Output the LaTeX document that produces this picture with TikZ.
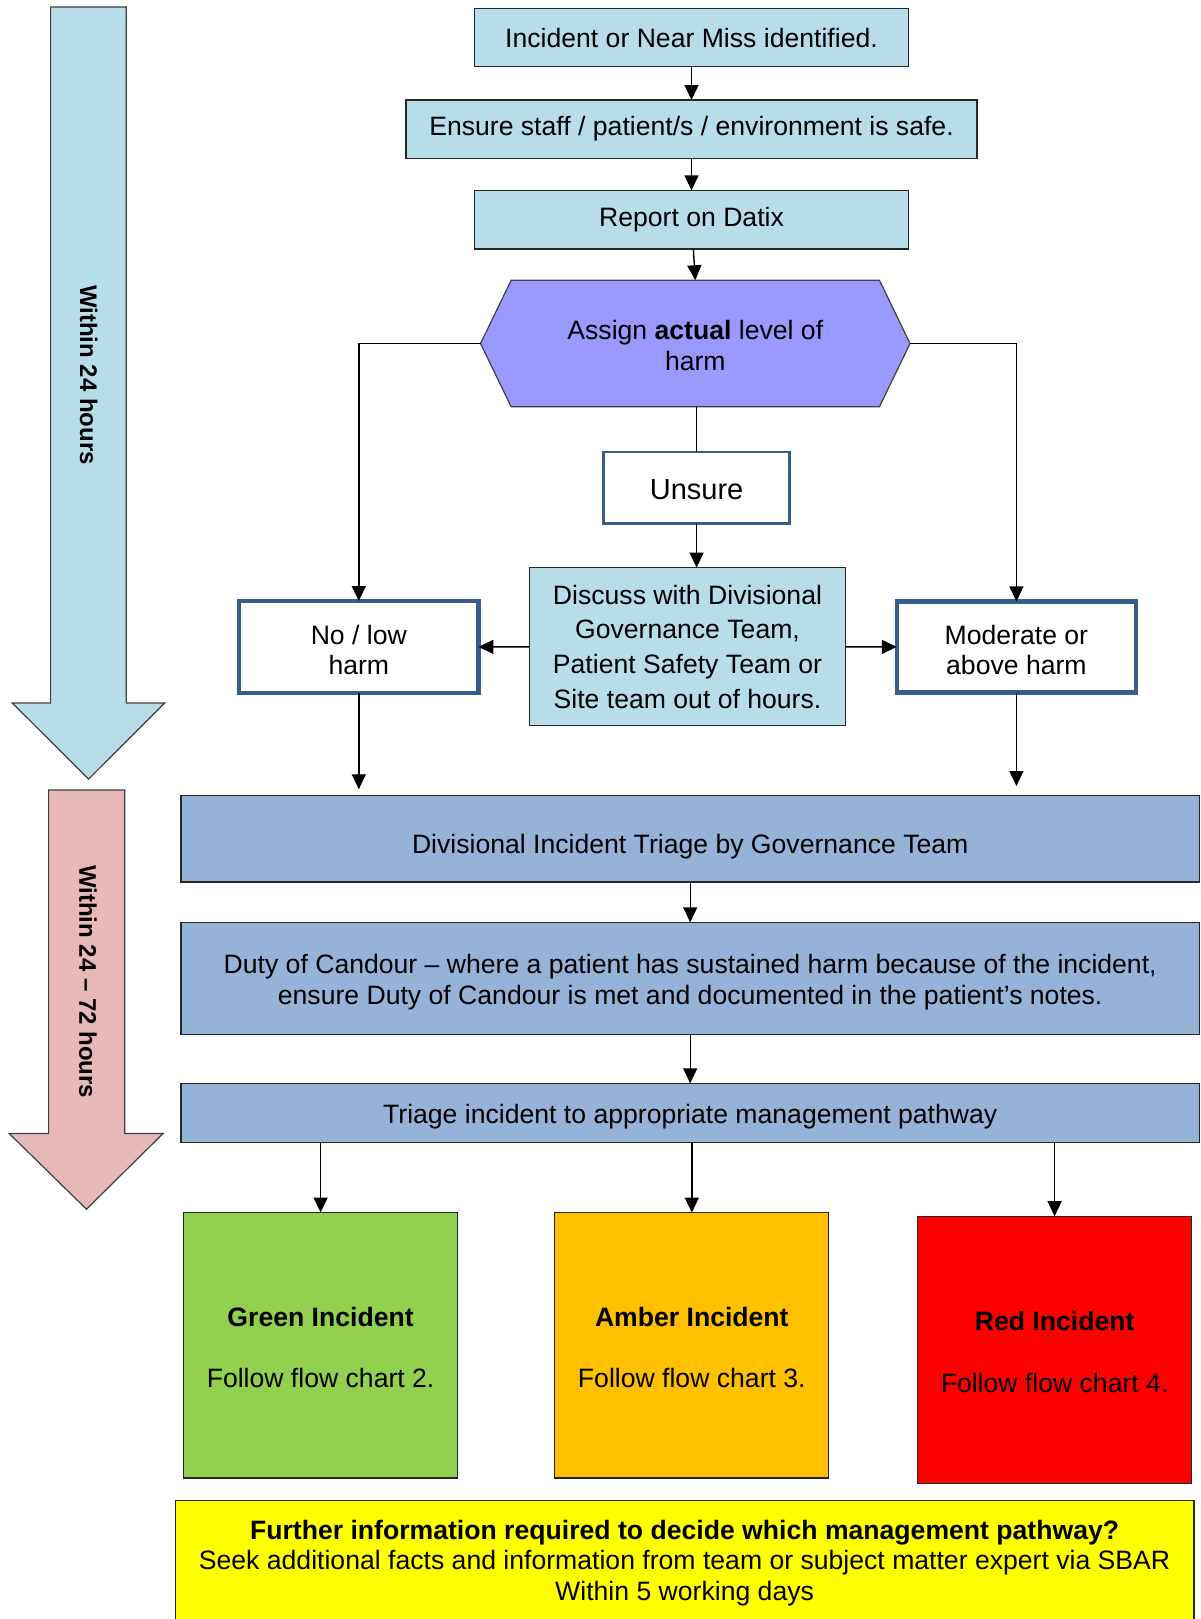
\documentclass[tikz,border=0pt]{standalone}
\usepackage{fontspec}
\setmainfont{Liberation Sans}
\usepackage{tikz}
\usetikzlibrary{arrows.meta,backgrounds}
\definecolor{paleblue}{HTML}{B7DEE8}
\definecolor{triblue}{HTML}{95B3D7}
\definecolor{hexblue}{HTML}{9999FF}
\definecolor{edgeblue}{HTML}{385D8A}
\definecolor{arrowblue}{HTML}{B7DEE8}
\definecolor{arrowpink}{HTML}{E6B9B8}
\definecolor{incgreen}{HTML}{92D050}
\definecolor{incamber}{HTML}{FFC000}
\definecolor{incred}{HTML}{FF0000}
\definecolor{infoyellow}{HTML}{FFFF00}

\begin{document}
\begin{tikzpicture}[x=1pt, y=-1pt,
    box/.style={draw=black!85, line width=1.3pt, fill=paleblue, inner sep=0pt, outer sep=0pt, align=center, font=\fontsize{26.6}{31}\selectfont},
    wide/.style={box, fill=triblue, minimum width=1018.3pt},
    harmbox/.style={box, fill=white, draw=edgeblue, line width=4.5pt, minimum width=239.2pt, text height=55.1pt, text depth=0.2pt, font=\fontsize{26.6}{30}\selectfont},
    pathbox/.style={box, minimum width=274pt, text height=85.5pt, text depth=0.2pt},
    arr/.style={-{Triangle[width=14pt,length=15pt]}, line width=1.4pt},
    band/.style={draw=black!75, line width=1.2pt},
    tag/.style={rotate=-90, font=\bfseries\fontsize{24}{28}\selectfont}]
  \useasboundingbox (0, 0) rectangle (1200, 1619);
  \draw [band, fill=arrowblue] (50.6, 7) -- (126.3, 7) -- (126.3, 703) -- (164.8, 703) -- (88.6, 779) -- (12.3, 703) -- (50.6, 703) -- cycle;
  \draw [band, fill=arrowpink] (48.6, 790) -- (124.8, 790) -- (124.8, 1133.5) -- (163, 1133.5) -- (86.5, 1209.2) -- (9.2, 1133.5) -- (48.6, 1133.5) -- cycle;
  \node [tag] (day1) at (88.6, 375) {Within 24 hours};
  \node [tag] (day3) at (88, 981.6) {Within 24 – 72 hours};

  \node [box, minimum width=434pt, minimum height=58.6pt] (incident) at (691.5, 37.5) {Incident or Near Miss identified.};
  \node [box, minimum width=571pt, minimum height=58.2pt] (safe) at (691.5, 129.1) {Ensure staff / patient/s / environment is safe.};
  \node [box, minimum width=434pt, minimum height=58.7pt] (datix) at (691.5, 219.7) {Report on Datix};
  \node [box, draw=none, fill=none, minimum width=429.5pt, minimum height=126.5pt, text height=54.1pt, text depth=0.2pt] (assign) at (695.3, 343.5) {Assign \textbf{actual} level of\\harm};
  \begin{pgfonlayer}{background}
    \draw [band, fill=hexblue] (assign.west) -- ([xshift=30.6pt]assign.north west) -- ([xshift=-30.6pt]assign.north east) -- (assign.east) -- ([xshift=-30.6pt]assign.south east) -- ([xshift=30.6pt]assign.south west) -- cycle;
  \end{pgfonlayer}
  \node [box, fill=white, draw=edgeblue, line width=2.7pt, minimum width=186pt, minimum height=71.5pt, text height=24.8pt, text depth=0.2pt, font=\fontsize{29}{33}\selectfont] (unsure) at (696.6, 487.6) {Unsure};
  \node [box, minimum width=316pt, minimum height=158.2pt, font=\fontsize{26.6}{34.8}\selectfont] (discuss) at (687.5, 646.7) {Discuss with Divisional\\Governance Team,\\Patient Safety Team or\\Site team out of hours.};
  \node [harmbox, minimum height=92pt] (nolow) at (358.8, 647) {No / low\\harm};
  \node [harmbox, minimum height=91.2pt] (moderate) at (1016.4, 647) {Moderate or\\above harm};

  \node [wide, minimum height=86.3pt, text height=35.1pt, text depth=5.6pt] (triage) at (690.2, 838.9) {Divisional Incident Triage by Governance Team};
  \node [wide, minimum height=112pt, text height=58.1pt, text depth=5.6pt] (candour) at (690.2, 978.3) {Duty of Candour – where a patient has sustained harm because of the incident,\\ensure Duty of Candour is met and documented in the patient’s notes.};
  \node [wide, minimum height=59pt, text height=27.1pt, text depth=5.6pt] (pathway) at (690.2, 1112.8) {Triage incident to appropriate management pathway};

  \node [pathbox, fill=incgreen, minimum height=265.5pt] (green) at (320.6, 1345.3) {\textbf{Green Incident}\\[30.6pt]Follow flow chart 2.};
  \node [pathbox, fill=incamber, minimum height=265.5pt] (amber) at (691.8, 1345.3) {\textbf{Amber Incident}\\[30.6pt]Follow flow chart 3.};
  \node [pathbox, fill=incred, minimum height=267pt] (red) at (1054.6, 1349.7) {\textbf{Red Incident}\\[30.6pt]Follow flow chart 4.};
  \node [box, fill=infoyellow, anchor=north, minimum width=1018.7pt, inner ysep=19.5pt, text depth=80pt, font=\fontsize{26.6}{30.5}\selectfont] (further) at (684.6, 1500.5) {\textbf{Further information required to decide which management pathway?}\\Seek additional facts and information from team or subject matter expert via SBAR\\Within 5 working days};

  \draw [arr] (incident) -- (safe);
  \draw [arr] (safe) -- (datix);
  \draw [arr] (datix) -- (assign.north);
  \draw [arr] (assign.west) -| (nolow.north);
  \draw [arr] (assign.east) -| (moderate.north);
  \draw [line width=1.4pt] (unsure.north |- assign.south) -- (unsure.north);
  \draw [arr] (unsure) -- (unsure.south |- discuss.north);
  \draw [arr] (discuss) -- (nolow);
  \draw [arr] (discuss) -- (moderate);
  \draw [arr, shorten >=6.5pt] (nolow) -- (nolow |- triage.north);
  \draw [arr, shorten >=9.7pt] (moderate) -- (moderate |- triage.north);
  \draw [arr] (triage) -- (candour);
  \draw [arr] (candour) -- (pathway);
  \draw [arr] (green |- pathway.south) -- (green);
  \draw [arr] (amber |- pathway.south) -- (amber);
  \draw [arr] (red |- pathway.south) -- (red);

\end{tikzpicture}
\end{document}
